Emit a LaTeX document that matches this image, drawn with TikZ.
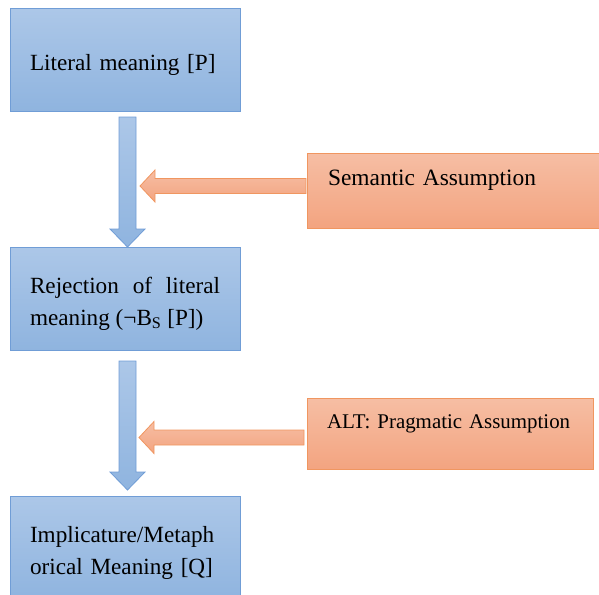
\documentclass[tikz,border=0pt]{standalone}
\usepackage{fontspec}
\setmainfont{Liberation Serif}
\usetikzlibrary{calc}
\definecolor{bluetop}{RGB}{172,199,232}
\definecolor{bluebot}{RGB}{143,180,223}
\definecolor{bluedraw}{RGB}{112,157,214}
\definecolor{orgtop}{RGB}{246,190,164}
\definecolor{orgbot}{RGB}{243,164,128}
\definecolor{orgdraw}{RGB}{240,150,96}
\newcommand{\tallstrut}{\rule{0pt}{26pt}}
\newcommand{\blkdown}[2]{%
  \draw[downarr] let \p1=#1, \p2=#2 in
    (\x1-8.5pt,\y1) -- (\x1+8.5pt,\y1) -- (\x1+8.5pt,\y2+18pt) -- (\x1+17.5pt,\y2+18pt)
    -- (\x1,\y2) -- (\x1-17.5pt,\y2+18pt) -- (\x1-8.5pt,\y2+18pt) -- cycle;}
\newcommand{\blkleft}[2]{%
  \draw[leftarr] let \p1=#1, \p2=#2 in
    (\x1,\y1+7.5pt) -- (\x2+15pt,\y1+7.5pt) -- (\x2+15pt,\y1+16pt) -- (\x2,\y1)
    -- (\x2+15pt,\y1-16pt) -- (\x2+15pt,\y1-7.5pt) -- (\x1,\y1-7.5pt) -- cycle;}
\begin{document}
\begin{tikzpicture}[x=1pt,y=-1pt,
  meaningbox/.style={rectangle, draw=bluedraw, line width=1pt, top color=bluetop, bottom color=bluebot,
    minimum width=230pt, text width=190pt, inner xsep=20pt, outer sep=0pt,
    font=\fontsize{23.2}{32}\selectfont},
  assumebox/.style={rectangle, draw=orgdraw, line width=1pt, top color=orgtop, bottom color=orgbot,
    outer sep=0pt, align=left, text height=8pt, text depth=19pt,
    font=\fontsize{23.4}{32}\selectfont},
  downarr/.style={draw=bluedraw, line width=0.8pt, top color=bluetop, bottom color=bluebot},
  leftarr/.style={draw=orgdraw, line width=0.8pt, top color=orgtop, bottom color=orgbot}]
  \useasboundingbox (0,0) rectangle (599,594);
  \node[meaningbox, minimum height=102pt, align=left] (lit) at (125,60) {\tallstrut Literal meaning [P]};
  \node[meaningbox, minimum height=103pt, align=justify] (rej) at (125,298.5)
    {\tallstrut Rejection of literal meaning (¬B\textsubscript{S} [P])};
  \node[meaningbox, minimum height=104pt, align=left] (imp) at (125,548)
    {\tallstrut Implicature/Metaph\\orical Meaning [Q]};
  \node[assumebox, minimum width=299pt, minimum height=75pt, inner xsep=21pt, text width=257pt] (sem)
    at (456.5,190.5) {\mbox{Semantic Assumption}};
  \node[assumebox, minimum width=286pt, minimum height=71pt, inner xsep=20pt, text width=246pt,
    font=\fontsize{20.9}{28}\selectfont] (prag)
    at (450,433.5) {\mbox{ALT: Pragmatic Assumption}};
  \coordinate (d1s) at ($(lit.south)+(2.5,6)$);
  \coordinate (d1t) at ($(rej.north)+(2.5,0)$);
  \coordinate (d2s) at ($(rej.south)+(2.5,11)$);
  \coordinate (d2t) at ($(imp.north)+(2.5,-6)$);
  \coordinate (l1s) at ($(sem.west)+(-1,-4.5)$);
  \coordinate (l1t) at ($(lit.south)+(15,0)$ |- l1s);
  \coordinate (l2s) at ($(prag.west)+(-3,4)$);
  \coordinate (l2t) at ($(lit.south)+(14,0)$ |- l2s);
  \blkdown{(d1s)}{(d1t)}
  \blkdown{(d2s)}{(d2t)}
  \blkleft{(l1s)}{(l1t)}
  \blkleft{(l2s)}{(l2t)}
\end{tikzpicture}
\end{document}
